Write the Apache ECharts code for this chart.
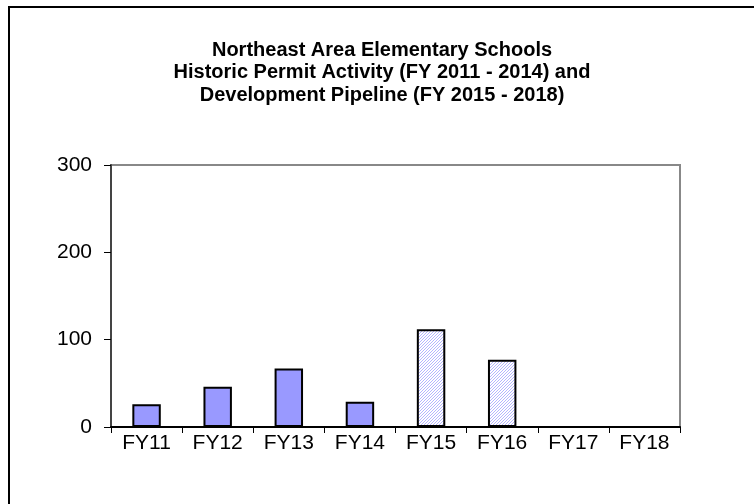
<!DOCTYPE html>
<html>
<head>
<meta charset="utf-8">
<script src="https://cdn.jsdelivr.net/npm/echarts@6/dist/echarts.min.js"></script>
<style>
  body { margin: 0; background: #fff; }
  #frame { position: absolute; left: 8px; top: 6px; width: 760px; height: 510px; border: 2px solid #000; box-sizing: border-box; }
  #main { position: absolute; left: 0; top: 0; width: 754px; height: 504px; }
</style>
</head>
<body>
<div id="frame"></div>
<div id="main"></div>
<script>
// data
var categories = ["FY11", "FY12", "FY13", "FY14", "FY15", "FY16", "FY17", "FY18"];
var permits = [26, 46, 67, 29, 112, 77, 0, 0];
var pipelineFrom = 4; // FY15 onwards is pipeline (hatched)
var yTicks = [0, 100, 200, 300];

// diagonal hatch for pipeline bars
function hatch() {
  var c = document.createElement("canvas");
  c.width = 3; c.height = 3;
  var g = c.getContext("2d");
  g.fillStyle = "#fff";
  g.fillRect(0, 0, 3, 3);
  g.strokeStyle = "#b4b4ff";
  g.lineWidth = 1;
  g.beginPath();
  g.moveTo(0, 3); g.lineTo(3, 0);
  g.moveTo(-1, 1); g.lineTo(1, -1);
  g.moveTo(2, 4); g.lineTo(4, 2);
  g.stroke();
  return c;
}
var hatchImg = hatch();

var barData = permits.map(function (v, i) {
  if (i < pipelineFrom) return v;
  return {
    value: v,
    itemStyle: {
      color: { image: hatchImg, repeat: "repeat" },
      borderWidth: v > 0 ? 2 : 0
    }
  };
});

var myChart = echarts.init(document.getElementById("main"));
var font = "Liberation Sans, Arial, sans-serif";
var option = {
  animation: false,
  title: {
    text: "Northeast Area Elementary Schools\nHistoric Permit Activity (FY 2011 - 2014) and\nDevelopment Pipeline (FY 2015 - 2018)",
    left: 377,
    top: 34,
    textAlign: "center",
    textStyle: {
      fontFamily: font,
      fontSize: 20,
      fontWeight: "bold",
      color: "#000",
      lineHeight: 22.5
    }
  },
  grid: {
    left: 111,
    right: 74,
    top: 165,
    bottom: 77,
    show: true,
    borderColor: "#888",
    borderWidth: 2,
    containLabel: false
  },
  xAxis: {
    type: "category",
    data: categories,
    axisLine: { lineStyle: { color: "#000", width: 2 } },
    axisTick: { show: true, alignWithLabel: false, length: 6, lineStyle: { color: "#000", width: 1 } },
    axisLabel: { fontFamily: font, fontSize: 21, color: "#000", margin: 6 }
  },
  yAxis: {
    type: "value",
    min: 0,
    max: yTicks[yTicks.length - 1],
    interval: yTicks[1] - yTicks[0],
    axisLine: { show: true, lineStyle: { color: "#444", width: 2 } },
    axisTick: { show: true, length: 7, lineStyle: { color: "#000", width: 1 } },
    splitLine: { show: false },
    axisLabel: { fontFamily: font, fontSize: 21, color: "#000", margin: 19 }
  },
  series: [
    {
      type: "bar",
      data: barData,
      barWidth: "40%",
      itemStyle: { color: "#9999ff", borderColor: "#000", borderWidth: 2 }
    }
  ]
};
myChart.setOption(option);
</script>
</body>
</html>
